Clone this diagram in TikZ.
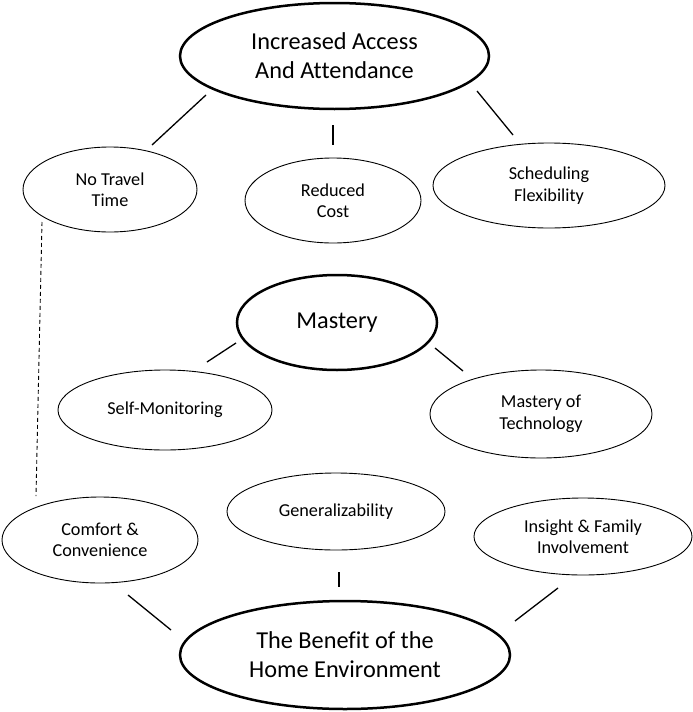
\documentclass[tikz,border=0pt]{standalone}
\usepackage{fontspec}
\setmainfont{Carlito}[Ligatures=NoCommon]
\usetikzlibrary{shapes.geometric}
\begin{document}
\begin{tikzpicture}[x=1pt,y=-1pt,
  bigell/.style={ellipse, draw=black, line width=2.5pt, inner sep=0pt, align=center,
    font=\fontsize{24.3}{29}\selectfont},
  smallell/.style={ellipse, draw=black, line width=0.9pt, inner sep=0pt, align=center,
    font=\fontsize{18.2}{21.5}\selectfont},
  conn/.style={draw=black, line width=1.3pt},
  dashconn/.style={draw=black, line width=0.9pt, dash pattern=on 4pt off 3pt}]
\useasboundingbox (0,0) rectangle (693,712);
% main ellipses
\node[bigell, minimum width=309pt, minimum height=106pt] (access) at (334.5,56) {Increased Access\\And Attendance};
\node[bigell, minimum width=200pt, minimum height=95pt] (mastery) at (337,322.5) {Mastery};
\node[bigell, minimum width=330pt, minimum height=108pt] (home) at (345,655) {The Benefit of the\\Home Environment};
% small ellipses
\node[smallell, minimum width=174pt, minimum height=85pt] (travel) at (110,189.5) {No Travel\\Time};
\node[smallell, minimum width=176pt, minimum height=85pt] (cost) at (333,200.5) {Reduced\\Cost};
\node[smallell, minimum width=232pt, minimum height=85pt] (sched) at (549,185.5) {Scheduling\\Flexibility};
\node[smallell, minimum width=214pt, minimum height=80pt] (selfmon) at (165,410) {Self-Monitoring};
\node[smallell, minimum width=222pt, minimum height=88pt] (tech) at (541,414) {Mastery of\\Technology};
\node[smallell, minimum width=196pt, minimum height=86pt] (comfort) at (100,540) {Comfort \&\\Convenience};
\node[smallell, minimum width=218pt, minimum height=77pt] (general) at (336,511.5) {Generalizability};
\node[smallell, minimum width=218pt, minimum height=77pt] (insight) at (583,536.5) {Insight \& Family\\Involvement};
% connector end points
\coordinate (a1) at (206,95);   \coordinate (t1) at (152,145);
\coordinate (a2) at (333,125);  \coordinate (c2) at (333,145);
\coordinate (a3) at (477,91);   \coordinate (s3) at (513,135);
\coordinate (m1) at (236,343);  \coordinate (sm1) at (207,362);
\coordinate (m2) at (435,348);  \coordinate (te2) at (463,371);
\coordinate (cf1) at (128,595); \coordinate (h1) at (171,630);
\coordinate (g2) at (339,572);  \coordinate (h2) at (339,587);
\coordinate (in3) at (558,588); \coordinate (h3) at (515,621);
\coordinate (d1) at (42,222);   \coordinate (d2) at (36,496);
% connectors
\draw[conn] (a1) -- (t1);
\draw[conn] (a2) -- (c2);
\draw[conn] (a3) -- (s3);
\draw[conn] (m1) -- (sm1);
\draw[conn] (m2) -- (te2);
\draw[conn] (cf1) -- (h1);
\draw[conn] (g2) -- (h2);
\draw[conn] (in3) -- (h3);
\draw[dashconn] (d1) -- (d2);
\end{tikzpicture}
\end{document}
